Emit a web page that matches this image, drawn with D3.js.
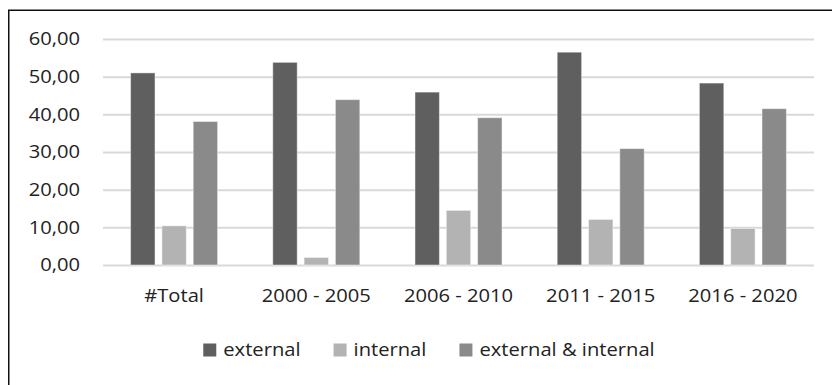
<!DOCTYPE html>
<html>
<head>
<meta charset="utf-8">
<script src="https://cdn.jsdelivr.net/npm/d3@7/dist/d3.min.js"></script>
<style>
  html, body { margin: 0; padding: 0; background: #fff; }
  svg { display: block; }
</style>
</head>
<body>
<svg id="chart" width="832" height="385"></svg>
<script>
// Period categories and the three series (share in %)
const categories = ["#Total", "2000 - 2005", "2006 - 2010", "2011 - 2015", "2016 - 2020"];
const seriesNames = ["external", "internal", "external & internal"];
const externalValues = [51.0, 53.8, 45.9, 56.5, 48.3];
const internalValues = [10.4, 2.0, 14.5, 12.1, 9.7];
const bothValues = [38.1, 43.9, 39.1, 30.9, 41.5];
const yTicks = [0, 10, 20, 30, 40, 50, 60];

const seriesValues = [externalValues, internalValues, bothValues];
const colors = ["#5f5f5f", "#b3b3b3", "#8a8a8a"];

const W = 832, H = 385;
const margin = { left: 103, right: 18, top: 39, bottom: 120 };
const FONT = "'Open Sans', 'Noto Sans', sans-serif";
const FS = 18;          // label font size
const SX = 1.12;        // horizontal glyph stretch
const TEXT = "#222222";

const svg = d3.select("#chart");

// chart frame (only top and left edges fall inside the view)
svg.append("rect")
  .attr("x", 8.75).attr("y", 10.25)
  .attr("width", 860).attr("height", 420)
  .attr("fill", "none").attr("stroke", "#111").attr("stroke-width", 1.5);

const x0 = d3.scaleBand()
  .domain(categories)
  .range([margin.left, W - margin.right])
  .paddingInner(0.388)
  .paddingOuter(0.194);

const x1 = d3.scaleBand()
  .domain(seriesNames)
  .range([0, x0.bandwidth()])
  .paddingInner(0.22)
  .paddingOuter(0);

const y = d3.scaleLinear()
  .domain([0, 60])
  .range([H - margin.bottom, margin.top]);

const locale = d3.formatLocale({ decimal: ",", thousands: ".", grouping: [3], currency: ["", " €"] });
const fmt = locale.format(".2f");

// gridlines
const grid = svg.append("g")
  .attr("transform", `translate(${margin.left},0)`)
  .call(d3.axisLeft(y).tickValues(yTicks).tickSize(-(W - margin.right - margin.left)).tickFormat(""));
grid.select(".domain").remove();
grid.selectAll(".tick line").attr("stroke", "#d9d9d9").attr("stroke-width", 2);

// y axis labels
const yAxis = svg.append("g")
  .attr("transform", `translate(${margin.left},0)`)
  .call(d3.axisLeft(y).tickValues(yTicks).tickSize(0).tickPadding(23 / SX).tickFormat(fmt));
yAxis.select(".domain").remove();
yAxis.selectAll(".tick text")
  .attr("font-family", FONT).attr("font-size", FS).attr("fill", TEXT)
  .attr("transform", `scale(${SX},1)`);

// bars
const rows = categories.map((c, i) => ({ cat: c, vals: seriesNames.map((s, j) => ({ s, j, v: seriesValues[j][i] })) }));
svg.append("g").selectAll("g")
  .data(rows)
  .join("g")
  .attr("transform", d => `translate(${x0(d.cat)},0)`)
  .selectAll("rect")
  .data(d => d.vals)
  .join("rect")
  .attr("x", d => x1(d.s))
  .attr("width", x1.bandwidth())
  .attr("y", d => y(d.v))
  .attr("height", d => y(0) - y(d.v))
  .attr("fill", d => colors[d.j])
  .attr("stroke", "#ffffff").attr("stroke-opacity", 0.45).attr("stroke-width", 1);

// x axis labels
const xAxis = svg.append("g")
  .attr("transform", `translate(0,${y(0)})`)
  .call(d3.axisBottom(x0).tickSize(0).tickPadding(24.5));
xAxis.select(".domain").remove();
xAxis.selectAll(".tick text")
  .attr("font-family", FONT).attr("font-size", FS).attr("fill", TEXT)
  .attr("transform", `scale(${SX},1)`);

// legend
const legendY = 350, sw = 13, swGap = 7, itemGap = 33, legendCenter = 429;
const legend = svg.append("g");
const items = legend.selectAll("g").data(seriesNames).join("g");
items.append("rect")
  .attr("width", sw).attr("height", sw)
  .attr("y", legendY - sw / 2)
  .attr("fill", (d, i) => colors[i]);
items.append("text")
  .text(d => d)
  .attr("font-family", FONT).attr("font-size", FS).attr("fill", TEXT)
  .attr("dy", "0.35em");
let cursor = 0;
const widths = [];
items.each(function () {
  const t = d3.select(this).select("text").node();
  widths.push(t.getComputedTextLength() * SX);
});
const total = d3.sum(widths) + seriesNames.length * (sw + swGap) + (seriesNames.length - 1) * itemGap;
cursor = legendCenter - total / 2;
items.each(function (d, i) {
  const g = d3.select(this);
  g.select("rect").attr("x", cursor);
  g.select("text").attr("transform", `translate(${cursor + sw + swGap},${legendY}) scale(${SX},1)`);
  cursor += sw + swGap + widths[i] + itemGap;
});
</script>
</body>
</html>
